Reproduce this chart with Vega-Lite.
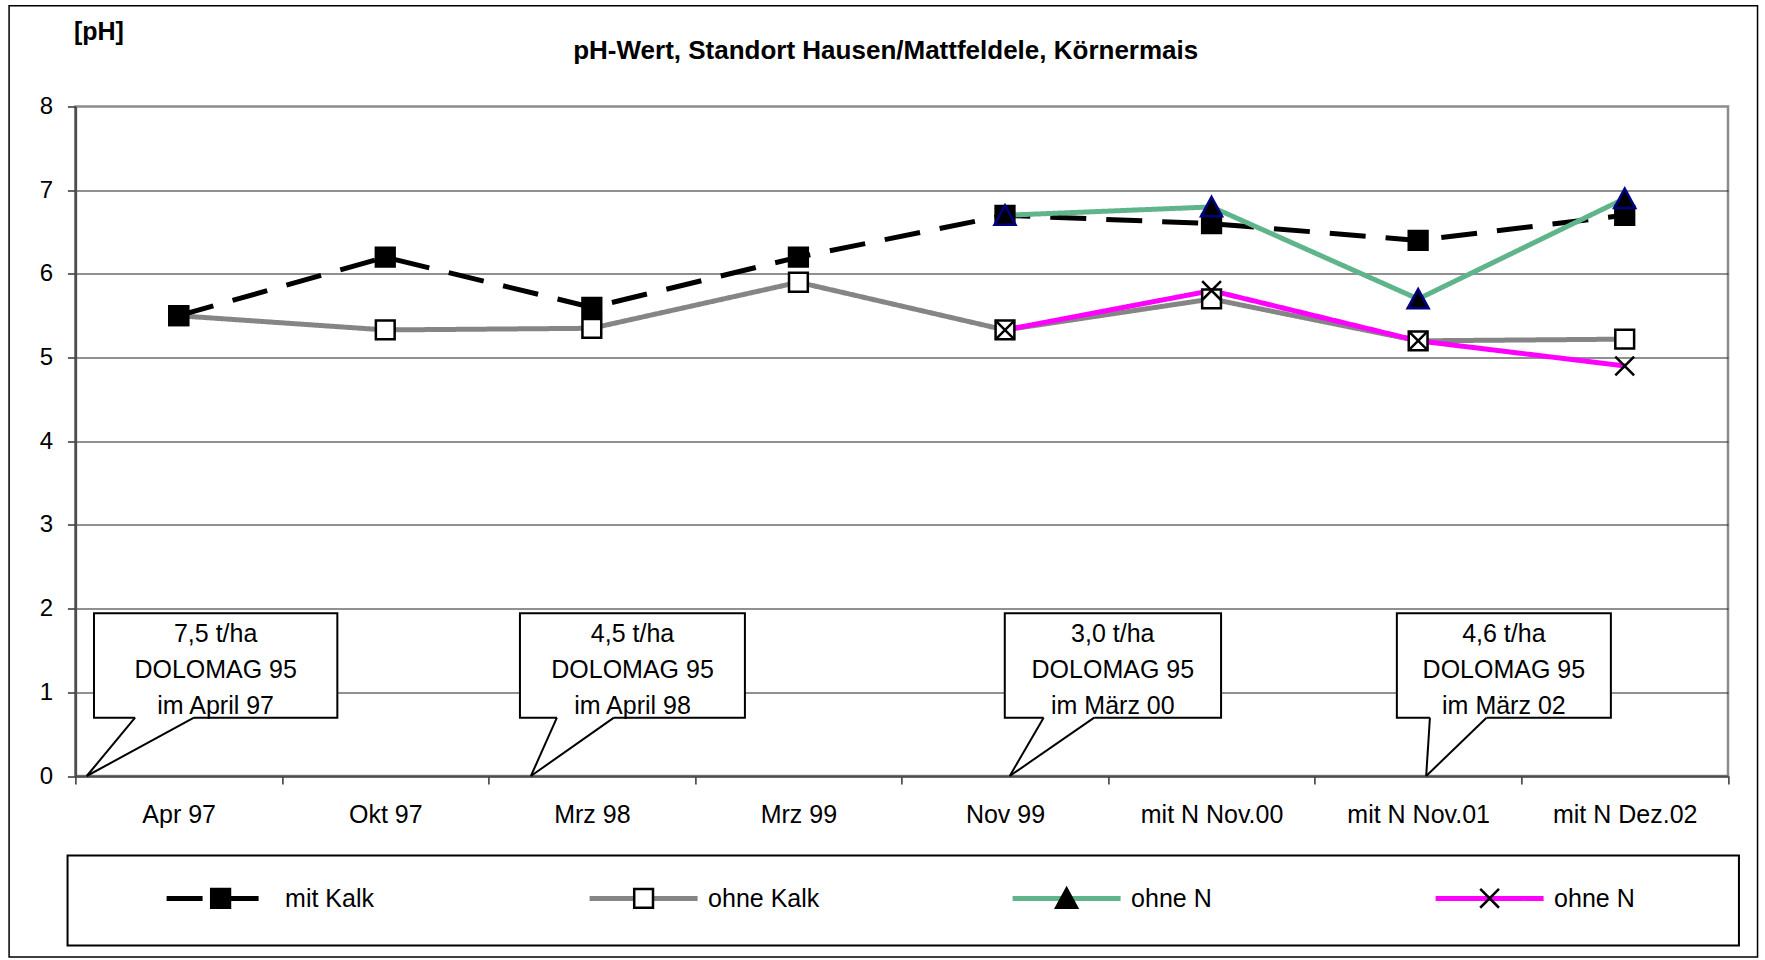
{
  "$schema": "https://vega.github.io/schema/vega-lite/v6.json",
  "width": 1652.6,
  "height": 669.5,
  "autosize": {"type": "none"},
  "padding": {"left": 75.4, "top": 106.5, "right": 37, "bottom": 184},
  "background": "white",
  "config": {
    "font": "Liberation Sans",
    "view": {"stroke": "#8c8c8c", "strokeWidth": 2.5},
    "axis": {"labelColor": "black", "labelFontSize": 24, "titleColor": "black", "labelFont": "Liberation Sans"},
    "legend": {"labelFont": "Liberation Sans"}
  },
  "title": {
    "text": "pH-Wert, Standort Hausen/Mattfeldele, Körnermais",
    "font": "Liberation Sans",
    "fontSize": 26,
    "fontWeight": "bold",
    "color": "black",
    "anchor": "middle",
    "frame": "group",
    "baseline": "alphabetic",
    "offset": -80,
    "dx": -16
  },
  "datasets": {
    "messwerte": [
      {"Termin": "Apr 97", "Variante": "ohne Kalk", "pH": 5.5},
      {"Termin": "Okt 97", "Variante": "ohne Kalk", "pH": 5.33},
      {"Termin": "Mrz 98", "Variante": "ohne Kalk", "pH": 5.35},
      {"Termin": "Mrz 99", "Variante": "ohne Kalk", "pH": 5.9},
      {"Termin": "Nov 99", "Variante": "ohne Kalk", "pH": 5.33},
      {"Termin": "mit N Nov.00", "Variante": "ohne Kalk", "pH": 5.7},
      {"Termin": "mit N Nov.01", "Variante": "ohne Kalk", "pH": 5.2},
      {"Termin": "mit N Dez.02", "Variante": "ohne Kalk", "pH": 5.22},
      {"Termin": "Apr 97", "Variante": "mit Kalk", "pH": 5.5},
      {"Termin": "Okt 97", "Variante": "mit Kalk", "pH": 6.2},
      {"Termin": "Mrz 98", "Variante": "mit Kalk", "pH": 5.6},
      {"Termin": "Mrz 99", "Variante": "mit Kalk", "pH": 6.2},
      {"Termin": "Nov 99", "Variante": "mit Kalk", "pH": 6.7},
      {"Termin": "mit N Nov.00", "Variante": "mit Kalk", "pH": 6.6},
      {"Termin": "mit N Nov.01", "Variante": "mit Kalk", "pH": 6.4},
      {"Termin": "mit N Dez.02", "Variante": "mit Kalk", "pH": 6.7},
      {"Termin": "Nov 99", "Variante": "ohne N, mit Kalk", "pH": 6.7},
      {"Termin": "mit N Nov.00", "Variante": "ohne N, mit Kalk", "pH": 6.8},
      {"Termin": "mit N Nov.01", "Variante": "ohne N, mit Kalk", "pH": 5.7},
      {"Termin": "mit N Dez.02", "Variante": "ohne N, mit Kalk", "pH": 6.9},
      {"Termin": "Nov 99", "Variante": "ohne N, ohne Kalk", "pH": 5.33},
      {"Termin": "mit N Nov.00", "Variante": "ohne N, ohne Kalk", "pH": 5.8},
      {"Termin": "mit N Nov.01", "Variante": "ohne N, ohne Kalk", "pH": 5.2},
      {"Termin": "mit N Dez.02", "Variante": "ohne N, ohne Kalk", "pH": 4.9}
    ],
    "kalkungen": [
      {"Zeilen": ["7,5 t/ha", "DOLOMAG 95", "im April 97"], "links": -0.41, "rechts": 0.768, "mitte": 0.179, "basis1": -0.211, "basis2": 0.074, "spitze": -0.445},
      {"Zeilen": ["4,5 t/ha", "DOLOMAG 95", "im April 98"], "links": 1.652, "rechts": 2.741, "mitte": 2.197, "basis1": 1.831, "basis2": 2.107, "spitze": 1.705},
      {"Zeilen": ["3,0 t/ha", "DOLOMAG 95", "im März 00"], "links": 3.999, "rechts": 5.046, "mitte": 4.522, "basis1": 4.187, "basis2": 4.432, "spitze": 4.023},
      {"Zeilen": ["4,6 t/ha", "DOLOMAG 95", "im März 02"], "links": 5.897, "rechts": 6.933, "mitte": 6.415, "basis1": 6.057, "basis2": 6.331, "spitze": 6.039}
    ]
  },
  "resolve": {"scale": {"x": "independent"}},
  "layer": [
    {
      "layer": [
        {
          "data": {"values": [{}]},
          "mark": {"type": "rect", "filled": false, "stroke": "black", "strokeWidth": 1.5},
          "encoding": {
            "x": {"datum": -0.821, "type": "quantitative", "axis": null},
            "x2": {"datum": 7.643},
            "y": {"datum": 9.204, "type": "quantitative"},
            "y2": {"datum": -2.163}
          }
        },
        {
          "data": {"values": [{}]},
          "mark": {"type": "rect", "filled": false, "stroke": "black", "strokeWidth": 2},
          "encoding": {
            "x": {"datum": -0.538, "type": "quantitative", "axis": null},
            "x2": {"datum": 7.553},
            "y": {"datum": -0.95, "type": "quantitative"},
            "y2": {"datum": -2.026}
          }
        },
        {
          "data": {"name": "kalkungen"},
          "mark": {"type": "rect", "fill": "white", "stroke": "black", "strokeWidth": 2},
          "encoding": {
            "x": {"field": "links", "type": "quantitative", "scale": {"domain": [-0.5, 7.5], "nice": false, "zero": false}, "axis": null},
            "x2": {"field": "rechts"},
            "y": {"datum": 1.944, "type": "quantitative"},
            "y2": {"datum": 0.697}
          }
        },
        {
          "data": {"name": "kalkungen"},
          "mark": {"type": "rule", "stroke": "white", "strokeWidth": 4},
          "encoding": {
            "x": {"field": "basis1", "type": "quantitative", "axis": null},
            "x2": {"field": "basis2"},
            "y": {"datum": 0.697, "type": "quantitative"}
          }
        },
        {
          "data": {"name": "kalkungen"},
          "mark": {"type": "rule", "stroke": "black", "strokeWidth": 2},
          "encoding": {
            "x": {"field": "basis1", "type": "quantitative", "axis": null},
            "x2": {"field": "spitze"},
            "y": {"datum": 0.697, "type": "quantitative"},
            "y2": {"datum": 0}
          }
        },
        {
          "data": {"name": "kalkungen"},
          "mark": {"type": "rule", "stroke": "black", "strokeWidth": 2},
          "encoding": {
            "x": {"field": "basis2", "type": "quantitative", "axis": null},
            "x2": {"field": "spitze"},
            "y": {"datum": 0.697, "type": "quantitative"},
            "y2": {"datum": 0}
          }
        },
        {
          "data": {"name": "kalkungen"},
          "mark": {"type": "text", "align": "center", "baseline": "top", "fontSize": 25, "lineHeight": 36, "color": "black", "font": "Liberation Sans"},
          "encoding": {
            "x": {"field": "mitte", "type": "quantitative", "axis": null},
            "y": {"datum": 1.835, "type": "quantitative"},
            "text": {"field": "Zeilen"}
          }
        }
      ]
    },
    {
      "data": {"name": "messwerte"},
      "layer": [
        {
          "mark": {"type": "line", "strokeWidth": 5},
          "encoding": {
            "x": {
              "field": "Termin", "type": "ordinal",
              "sort": ["Apr 97", "Okt 97", "Mrz 98", "Mrz 99", "Nov 99", "mit N Nov.00", "mit N Nov.01", "mit N Dez.02"],
              "scale": {"type": "band", "paddingInner": 0, "paddingOuter": 0},
              "axis": {"title": null, "tickBand": "extent", "labelAngle": 0, "tickSize": 8, "tickColor": "#333333", "tickWidth": 1.5, "domainColor": "#4d4d4d", "domainWidth": 2, "labelPadding": 18.2, "labelFontSize": 25, "labelColor": "black", "grid": false}
            },
            "y": {
              "field": "pH", "type": "quantitative",
              "scale": {"domain": [0, 8], "nice": false},
              "axis": {
                "values": [0, 1, 2, 3, 4, 5, 6, 7, 8],
                "format": "d",
                "title": "[pH]", "titleAngle": 0, "titleX": 23, "titleY": -75.5, "titleAlign": "center", "titleBaseline": "middle",
                "titleFontSize": 25, "titleFontWeight": "bold", "titleColor": "black",
                "grid": true, "gridColor": "#222222", "gridWidth": 1.2,
                "gridOpacity": {"condition": {"test": "datum.value === 8", "value": 0}, "value": 1},
                "tickSize": 8, "tickColor": "#333333", "tickWidth": 1.5,
                "domainColor": "#4d4d4d", "domainWidth": 2.5,
                "labelPadding": 14.7, "labelFontSize": 24, "labelColor": "black"
              }
            },
            "stroke": {
              "field": "Variante", "type": "nominal",
              "scale": {"domain": ["mit Kalk", "ohne Kalk", "ohne N, mit Kalk", "ohne N, ohne Kalk"], "range": ["black", "#858585", "#60b48c", "#ff00ff"]},
              "legend": {"title": null, "orient": "none", "legendX": 88.7, "legendY": 735.3, "direction": "horizontal", "gridAlign": "all", "symbolType": "stroke", "symbolSize": 11664, "symbolStrokeWidth": 5, "labelFontSize": 25, "labelOffset": 8, "columnPadding": 182, "padding": 0, "labelColor": "black", "labelLimit": 300, "labelExpr": "split(datum.label, ',')[0]"}
            },
            "strokeDash": {
              "field": "Variante", "type": "nominal",
              "scale": {"domain": ["mit Kalk", "ohne Kalk", "ohne N, mit Kalk", "ohne N, ohne Kalk"], "range": [[36, 20], [1, 0], [1, 0], [1, 0]]},
              "legend": {"title": null, "orient": "none", "legendX": 88.7, "legendY": 735.3, "direction": "horizontal", "gridAlign": "all", "symbolType": "stroke", "symbolSize": 11664, "symbolStrokeWidth": 5, "labelFontSize": 25, "labelOffset": 8, "columnPadding": 182, "padding": 0, "labelColor": "black", "labelLimit": 300, "labelExpr": "split(datum.label, ',')[0]"}
            }
          }
        },
        {
          "mark": {"type": "point", "filled": true, "size": 12210.25, "strokeWidth": 2.5, "opacity": 1},
          "encoding": {
            "x": {
              "field": "Termin", "type": "ordinal",
              "sort": ["Apr 97", "Okt 97", "Mrz 98", "Mrz 99", "Nov 99", "mit N Nov.00", "mit N Nov.01", "mit N Dez.02"],
              "scale": {"type": "band", "paddingInner": 0, "paddingOuter": 0}
            },
            "y": {"field": "pH", "type": "quantitative"},
            "stroke": {"condition": {"test": "datum.Variante === 'ohne N, mit Kalk'", "value": "#000080"}, "value": "black"},
            "shape": {
              "field": "Variante", "type": "nominal",
              "scale": {"range": ["M-0.17,-0.17H0.17V0.17H-0.17Z", "M-0.17,-0.17H0.17V0.17H-0.17Z", "M0,-0.18L0.19,0.17L-0.19,0.17Z", "M-0.17,-0.17L0.17,0.17M0.17,-0.17L-0.17,0.17"]},
              "legend": {"title": null, "orient": "none", "legendX": 88.7, "legendY": 735.3, "direction": "horizontal", "gridAlign": "all", "symbolSize": 12210.25, "symbolStrokeWidth": 2.5, "symbolStrokeColor": "black", "labelFontSize": 25, "labelOffset": 8, "columnPadding": 302, "padding": 0, "labelExpr": "''",
                "encode": {"symbols": {"update": {"stroke": {"signal": "datum.value === 'ohne N, mit Kalk' ? '#000080' : 'black'"}}}}}
            },
            "color": {
              "field": "Variante", "type": "nominal",
              "scale": {"range": ["black", "white", "black", "black"]},
              "legend": {"title": null, "orient": "none", "legendX": 88.7, "legendY": 735.3, "direction": "horizontal", "gridAlign": "all", "symbolSize": 12210.25, "symbolStrokeWidth": 2.5, "symbolStrokeColor": "black", "labelFontSize": 25, "labelOffset": 8, "columnPadding": 302, "padding": 0, "labelExpr": "''",
                "encode": {"symbols": {"update": {"stroke": {"signal": "datum.value === 'ohne N, mit Kalk' ? '#000080' : 'black'"}}}}}
            }
          }
        }
      ]
    }
  ]
}
